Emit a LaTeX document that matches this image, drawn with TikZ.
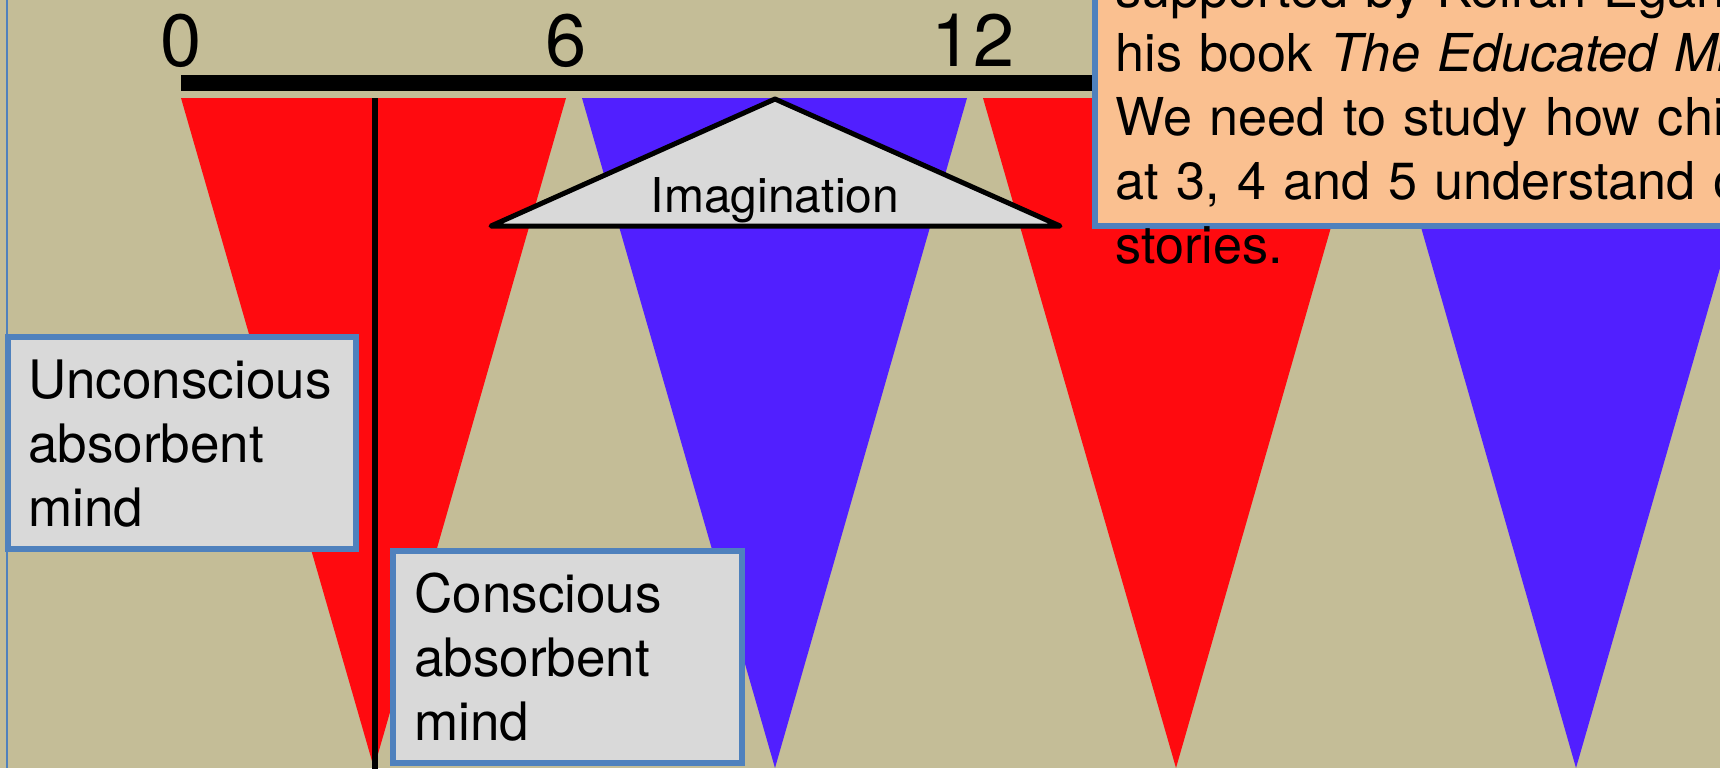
\documentclass[tikz,border=0pt]{standalone}
\usepackage{fontspec}
\setmainfont{TeX Gyre Heros}
\definecolor{bgtan}{HTML}{C4BD97}
\definecolor{redtri}{HTML}{FF0A0F}
\definecolor{bluetri}{HTML}{511FFF}
\definecolor{boxgray}{HTML}{D9D9D9}
\definecolor{boxblue}{HTML}{4F81BD}
\definecolor{notefill}{HTML}{FAC090}
\tikzset{
  numlbl/.style={font=\fontsize{37}{44}\selectfont, anchor=base, inner sep=0pt},
  infobox/.style={draw=boxblue, line width=2.75pt, fill=boxgray},
  notebox/.style={draw=boxblue, line width=2.75pt, fill=notefill},
  boxtext/.style={font=\fontsize{26.5}{32}\selectfont, anchor=base west, inner sep=0pt, text width=#1, align=left},
  redwedge/.style={fill=redtri},
  bluewedge/.style={fill=bluetri},
}
\begin{document}
\begin{tikzpicture}[x=0.5pt,y=-0.5pt]
\useasboundingbox (0,0) rectangle (1720,768);
\clip (0,0) rectangle (1720,768);
\fill[bgtan] (0,0) rectangle (1720,768);
\draw[boxblue, line width=1.1pt] (7,0) -- (7,768);
% wedges
\fill[redwedge] (181,98) -- (566,98) -- (374,768) -- cycle;
\fill[bluewedge] (582,98) -- (967,98) -- (775,768) -- cycle;
\fill[redwedge] (983,98) -- (1368,98) -- (1176,768) -- cycle;
\fill[bluewedge] (1384,98) -- (1769,98) -- (1576,768) -- cycle;
% timeline
\coordinate (barL) at (181,83);
\coordinate (barR) at (1120,83);
\draw[line width=8pt] (barL) -- (barR);
\node[numlbl] (n0) at (181,66) {0};
\node[numlbl] (n6) at (566,66) {6};
\node[numlbl] (n12) at (973,66) {12};
% vertical line
\coordinate (vTop) at (375,98);
\coordinate (vBot) at (375,770);
\draw[line width=3pt] (vTop) -- (vBot);
% imagination triangle
\draw[line width=2.5pt, line join=round, fill=boxgray] (491,226) -- (775,99) -- (1060,226) -- cycle;
\node[font=\fontsize{24}{28}\selectfont, anchor=base, inner sep=0pt] (imag) at (775,212) {Imagination};
% note box
\draw[notebox] (1095,-60) rectangle (1800,226);
\node[boxtext=460pt, font=\fontsize{26.1}{32}\selectfont] (note) at (1115,7) {supported by Keiran Egan in\\his book \textit{The Educated Mind}.\\We need to study how children\\at 3, 4 and 5 understand oral\\stories.};
% unconscious box
\draw[infobox] (8,337) rectangle (356,549);
\node[boxtext=170pt] (unc) at (28,398) {Unconscious\\absorbent\\mind};
% conscious box
\draw[infobox] (393,551) rectangle (742,763);
\node[boxtext=170pt] (con) at (414,612) {Conscious\\absorbent\\mind};
\end{tikzpicture}
\end{document}
